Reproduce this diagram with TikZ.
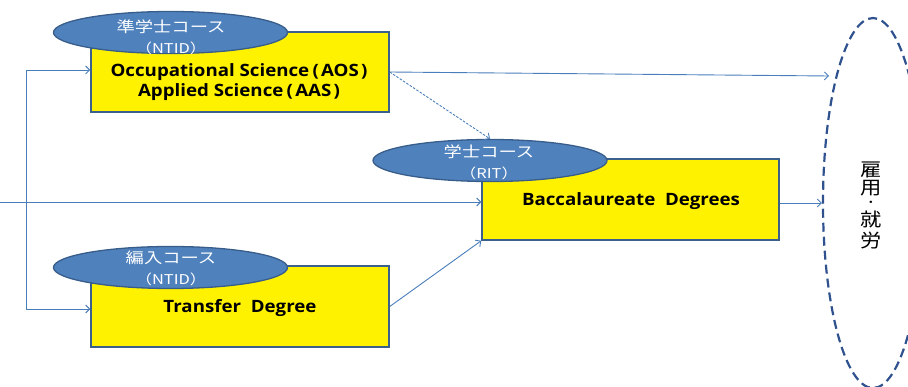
\documentclass[tikz,border=0pt]{standalone}
\usepackage{fontspec}
\usepackage{graphicx}
\usetikzlibrary{shapes.geometric,arrows.meta}
\newfontfamily\jpfont{Noto Sans CJK JP}
\newfontfamily\latfont{Open Sans}
\definecolor{linkblue}{RGB}{74,126,187}
\definecolor{capfill}{RGB}{79,129,189}
\definecolor{capedge}{RGB}{56,93,138}
\definecolor{boxedge}{RGB}{60,96,140}
\definecolor{dashedge}{RGB}{47,82,143}
% loosely spaced brackets around the abbreviations
\newcommand{\lpar}{\hspace{3pt}(\hspace{2pt}}
\newcommand{\rpar}{\hspace{2pt})}
% degree titles, slightly widened
\newcommand{\degwide}[1]{\scalebox{1.1}[1]{\begin{tabular}{@{}c@{}}#1\end{tabular}}}
\begin{document}
\begin{tikzpicture}[x=1pt,y=-1pt,
  degree/.style={draw=boxedge,line width=1.5pt,fill=yellow,minimum width=298pt,minimum height=80pt,inner sep=0pt},
  caption/.style={ellipse,draw=capedge,line width=1.3pt,fill=capfill,minimum width=234pt,minimum height=42pt,inner sep=0pt},
  capmain/.style={text=white,inner sep=0pt,xscale=1.22,font=\jpfont\fontsize{15}{15}\selectfont},
  capsub/.style={text=white,inner sep=0pt,xscale=1.22,font=\jpfont\fontsize{13.5}{13.5}\selectfont},
  degtext/.style={font=\latfont\bfseries\fontsize{17}{20}\selectfont,inner sep=0pt},
  vchar/.style={inner sep=0pt,xscale=1.15,font=\jpfont\fontsize{18.5}{18.5}\selectfont},
  link/.style={draw=linkblue,line width=0.9pt,-{Straight Barb[length=4pt,width=8pt]}},
  ]
\useasboundingbox (0,0) rectangle (908,387);

% degree boxes
\node[degree] (aos) at (240,72) {};
\node[degree,minimum width=297pt,minimum height=81pt] (bac) at (630.5,199.5) {};
\node[degree,minimum height=81pt] (trf) at (240,306.5) {};

% box texts
\node[degtext] (aostext) at (239,83) {\degwide{Occupational Science\lpar AOS\rpar\\Applied Science\lpar AAS\rpar}};
\node[degtext] (bactext) at (631,202) {\degwide{Baccalaureate\ \ Degrees}};
\node[degtext] (trftext) at (240,309) {\degwide{Transfer\ \ Degree}};

% course captions
\node[caption] (capa) at (170.5,32.5) {};
\node[caption] (capb) at (490,160.5) {};
\node[caption] (capc) at (170.5,267.5) {};
\begin{scope}[shift={(171,27)}]
  \node[capmain] (capatop) at (0,0) {準学士コース};
  \node[capsub] (capabot) at (0,21) {（NTID）};
\end{scope}
\begin{scope}[shift={(489,152)}]
  \node[capmain] (capbtop) at (0,0) {学士コース};
  \node[capsub] (capbbot) at (0,21) {（RIT）};
\end{scope}
\begin{scope}[shift={(171,258)}]
  \node[capmain] (capctop) at (0,0) {編入コース};
  \node[capsub] (capcbot) at (0,21) {（NTID）};
\end{scope}

% employment
\node[ellipse,draw=dashedge,line width=2.2pt,dash pattern=on 9pt off 5pt,minimum width=100pt,minimum height=370pt,inner sep=0pt] (emp) at (873,203) {};
\begin{scope}[shift={(871,169.5)}]
  \node[vchar] (empa) at (0,0) {雇};
  \node[vchar] (empb) at (0,19) {用};
  \node[vchar,font=\jpfont\fontsize{11}{11}\selectfont] (empc) at (0,34.5) {・};
  \node[vchar] (empd) at (0,50) {就};
  \node[vchar] (empe) at (0,71) {労};
\end{scope}

% connectors
\coordinate (split) at (26,70);
\coordinate (splitb) at (26,309);
\coordinate (entry) at (0,202);
\coordinate (empin) at (829,76);

\draw[link] (split) -- (aos.west |- split);
\draw[link] (split) -- (splitb) -- (trf.west |- splitb);
\draw[link] (entry) -- (bac.west |- entry);
\draw[link] (bac.east |- 0,203) -- (emp.west |- 0,203);
\draw[link] (aos.east) -- (empin);
\draw[link,dashed,dash pattern=on 2.5pt off 1.5pt] (aos.east) -- (capb.north);
\draw[link] (trf.east) -- (bac.south west);
\end{tikzpicture}
\end{document}
